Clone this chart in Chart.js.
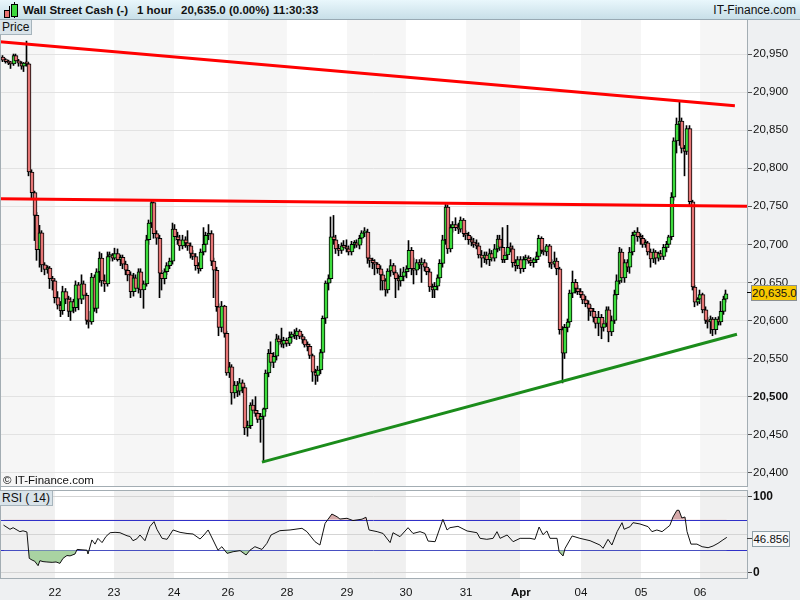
<!DOCTYPE html>
<html lang="en">
<head>
<meta charset="UTF-8">
<title>Wall Street Cash - 1 hour</title>
<script src="https://cdn.jsdelivr.net/npm/chart.js@4.4.1/dist/chart.umd.min.js"></script>
<style>
  body { margin:0; width:800px; height:600px; position:relative; overflow:hidden; background:#fff;
         font-family:"Liberation Sans", Arial, sans-serif; color:#111; }
  .abs { position:absolute; }
  #header { left:0; top:0; width:800px; height:20px; box-sizing:border-box;
            background:linear-gradient(#e9f7fc,#c8dfe8); border-bottom:1px solid #98a9b3; }
  .htxt { top:3px; font-size:11.5px; font-weight:bold; line-height:14px; white-space:nowrap; }
  .strip { background:#eef0f2; }
  .hline { height:1px; background:#a3adb3; }
  .lbl { background:#d9e3e9; border:1px solid #a6b4bc; border-left:none; border-top:none;
         font-size:12px; line-height:14px; padding:0 2px; }
  canvas { position:absolute; left:0; }
</style>
</head>
<body>
<div class="abs strip" style="left:747px; top:20px; width:53px; height:580px;"></div>
<div class="abs strip" style="left:0; top:578px; width:800px; height:22px;"></div>

<div id="header" class="abs">
  <div class="abs" style="left:9px; top:6px; width:1px; height:12px; background:#000;"></div>
  <div class="abs" style="left:4px; top:10px; width:4px; height:6px; background:#e8716f; border:1px solid #000;"></div>
  <div class="abs" style="left:14px; top:2px; width:1px; height:16px; background:#000;"></div>
  <div class="abs" style="left:11px; top:4px; width:5px; height:11px; background:#3dd83d; border:1px solid #000;"></div>
  <span class="abs htxt" style="left:23px;">Wall Street Cash (-)</span>
  <span class="abs htxt" style="left:137px;">1 hour</span>
  <span class="abs htxt" style="left:181px;">20,635.0 (0.00%)</span>
  <span class="abs htxt" style="left:273px;">11:30:33</span>
  <span class="abs" style="right:4px; top:3px; font-size:12px; line-height:14px;">IT-Finance.com</span>
</div>

<canvas id="price" width="800" height="466" style="top:20px;"></canvas>
<canvas id="rsi" width="800" height="112" style="top:488px;"></canvas>

<div class="abs" style="left:0; top:20px; width:1px; height:558px; background:#a3adb3;"></div>
<div class="abs hline" style="left:0; top:486px; width:748px;"></div>
<div class="abs hline" style="left:0; top:490px; width:748px;"></div>
<div class="abs hline" style="left:0; top:578px; width:748px;"></div>

<div class="abs lbl" style="left:0; top:20px;">Price</div>
<div class="abs" style="left:3px; top:474px; font-size:11.5px;">&copy; IT-Finance.com</div>
<div class="abs lbl" style="left:0; top:491px;">RSI ( 14)</div>

<div class="abs" style="left:747px; top:292px; width:5px; height:1px; background:#000;"></div>
<div class="abs" style="left:751px; top:285px; width:44px; height:14px; background:#f7c800; border:1px solid #8a8f93;
     font-size:11.5px; line-height:14px; text-align:center;">20,635.0</div>
<div class="abs" style="left:747px; top:538px; width:5px; height:1px; background:#444;"></div>
<div class="abs" style="left:752px; top:531px; width:36px; height:14px; background:#f6f8f9; border:1px solid #8fa0a8;
     font-size:11.5px; line-height:14px; text-align:center;">46.856</div>

<script>
// hourly candles, one per index
const opens = [
  20946,20942,20940,20938,20937,20948,20941,20938,20934,20938,
  20937,20795,20768,20738,20693,20715,20673,20667,20669,20655,
  20652,20630,20620,20613,20638,20628,20612,20625,20617,20647,
  20628,20648,20633,20600,20598,20657,20616,20664,20682,20652,
  20648,20684,20686,20682,20688,20680,20683,20674,20666,20660,
  20638,20656,20642,20664,20640,20648,20706,20728,20755,20714,
  20708,20662,20655,20664,20672,20678,20720,20710,20706,20698,
  20706,20702,20698,20688,20684,20672,20668,20690,20700,20712,
  20714,20678,20666,20618,20591,20619,20583,20531,20539,20505,
  20515,20507,20518,20512,20459,20462,20489,20482,20478,20470,
  20474,20484,20531,20557,20545,20553,20576,20572,20569,20574,
  20570,20578,20582,20580,20586,20579,20575,20568,20566,20554,
  20532,20528,20535,20558,20603,20649,20655,20710,20706,20694,
  20692,20698,20696,20694,20690,20700,20702,20699,20708,20715,
  20716,20682,20679,20676,20674,20668,20660,20652,20640,20665,
  20672,20663,20655,20652,20658,20664,20668,20692,20668,20666,
  20676,20673,20676,20670,20664,20644,20640,20645,20656,20675,
  20706,20749,20694,20722,20726,20722,20720,20732,20714,20712,
  20706,20703,20700,20698,20686,20682,20686,20680,20688,20682,
  20694,20707,20696,20680,20686,20696,20694,20676,20672,20680,
  20668,20680,20682,20678,20676,20680,20684,20708,20692,20690,
  20698,20676,20674,20678,20668,20588,20557,20591,20598,20636,
  20650,20642,20638,20634,20627,20622,20616,20612,20604,20596,
  20604,20591,20596,20614,20585,20600,20634,20652,20690,20656,
  20676,20670,20690,20712,20716,20710,20708,20700,20702,20690,
  20681,20690,20682,20688,20684,20696,20700,20710,20762,20836,
  20858,20862,20826,20822,20852,20756,20644,20624,20628,20634,
  20614,20600,20598,20602,20588,20602,20598,20612,20628
];
const highs = [
  20948,20944,20942,20940,20950,20950,20943,20940,20939,20967,
  20938,20798,20770,20742,20725,20718,20676,20672,20671,20658,
  20655,20638,20625,20645,20642,20632,20630,20628,20652,20650,
  20660,20652,20636,20612,20662,20660,20668,20690,20688,20660,
  20690,20690,20688,20695,20694,20686,20686,20678,20672,20664,
  20662,20660,20668,20668,20652,20712,20732,20758,20756,20718,
  20712,20666,20668,20676,20682,20728,20726,20716,20712,20712,
  20710,20718,20702,20692,20688,20676,20694,20722,20716,20726,
  20718,20682,20670,20622,20625,20620,20586,20545,20542,20520,
  20520,20524,20522,20515,20468,20492,20496,20500,20482,20478,
  20485,20535,20562,20572,20558,20582,20580,20590,20578,20577,
  20585,20585,20588,20590,20588,20582,20578,20572,20569,20556,
  20536,20540,20562,20606,20652,20660,20736,20738,20712,20700,
  20702,20705,20706,20698,20704,20705,20706,20712,20718,20722,
  20720,20686,20682,20680,20676,20672,20664,20655,20668,20680,
  20675,20666,20660,20668,20670,20672,20705,20696,20682,20680,
  20680,20682,20680,20675,20668,20648,20650,20660,20680,20712,
  20753,20752,20726,20730,20735,20728,20736,20734,20718,20716,
  20710,20708,20706,20702,20692,20690,20690,20694,20692,20700,
  20712,20712,20722,20690,20725,20702,20698,20680,20684,20684,
  20684,20686,20685,20683,20682,20690,20712,20710,20696,20700,
  20700,20680,20690,20682,20670,20592,20595,20602,20640,20665,
  20654,20646,20642,20638,20632,20626,20620,20616,20608,20612,
  20608,20600,20618,20618,20606,20640,20660,20696,20694,20680,
  20680,20696,20716,20718,20722,20714,20712,20706,20704,20694,
  20694,20692,20690,20692,20700,20704,20712,20768,20840,20866,
  20887,20866,20830,20856,20856,20758,20646,20630,20640,20636,
  20618,20604,20606,20604,20604,20605,20625,20632,20640
];
const lows = [
  20940,20938,20936,20931,20935,20939,20934,20930,20927,20934,
  20790,20760,20705,20679,20670,20664,20660,20662,20642,20640,
  20623,20615,20605,20608,20622,20605,20600,20610,20612,20614,
  20622,20628,20595,20590,20595,20612,20610,20650,20645,20638,
  20645,20678,20678,20680,20678,20672,20668,20660,20652,20630,
  20632,20638,20636,20630,20616,20645,20700,20722,20708,20700,
  20630,20640,20648,20660,20668,20674,20705,20700,20692,20694,
  20696,20692,20682,20680,20666,20662,20665,20686,20690,20706,
  20672,20630,20612,20580,20585,20578,20528,20525,20490,20498,
  20500,20502,20505,20450,20448,20458,20478,20474,20466,20440,
  20414,20480,20526,20540,20538,20548,20568,20565,20564,20566,
  20567,20572,20576,20575,20576,20570,20565,20560,20550,20520,
  20516,20520,20530,20550,20596,20640,20650,20700,20688,20685,
  20688,20694,20690,20686,20686,20695,20696,20694,20702,20710,
  20675,20670,20668,20660,20662,20640,20640,20632,20636,20658,
  20660,20630,20640,20645,20652,20656,20664,20660,20648,20660,
  20668,20650,20665,20660,20638,20630,20630,20640,20650,20670,
  20700,20688,20690,20716,20718,20714,20716,20710,20706,20700,
  20698,20696,20694,20682,20670,20676,20674,20672,20678,20678,
  20690,20692,20676,20676,20680,20690,20670,20665,20668,20662,
  20664,20674,20675,20672,20670,20676,20680,20688,20686,20685,
  20670,20668,20670,20660,20582,20518,20550,20585,20594,20630,
  20636,20634,20630,20622,20618,20600,20606,20598,20590,20580,
  20576,20586,20592,20572,20580,20596,20628,20648,20650,20650,
  20664,20662,20686,20700,20704,20700,20696,20696,20686,20670,
  20676,20674,20678,20680,20680,20690,20696,20706,20758,20820,
  20830,20820,20790,20818,20752,20640,20618,20620,20622,20610,
  20596,20590,20583,20580,20582,20594,20594,20608,20624
];
const closes = [
  20942,20940,20938,20937,20948,20941,20938,20934,20938,20937,
  20795,20768,20738,20693,20715,20673,20667,20669,20655,20652,
  20630,20620,20613,20638,20628,20612,20625,20617,20647,20628,
  20648,20633,20600,20598,20657,20616,20664,20682,20652,20648,
  20684,20686,20682,20688,20680,20683,20674,20666,20660,20638,
  20656,20642,20664,20640,20648,20706,20728,20755,20714,20708,
  20662,20655,20664,20672,20678,20720,20710,20706,20698,20706,
  20702,20698,20688,20684,20672,20668,20690,20700,20712,20714,
  20678,20666,20618,20591,20619,20583,20531,20539,20505,20515,
  20507,20518,20512,20459,20462,20489,20482,20478,20470,20474,
  20484,20531,20557,20545,20553,20576,20572,20569,20574,20570,
  20578,20582,20580,20586,20579,20575,20568,20566,20554,20532,
  20528,20535,20558,20603,20649,20655,20710,20706,20694,20692,
  20698,20696,20694,20690,20700,20702,20699,20708,20715,20716,
  20682,20679,20676,20674,20668,20660,20652,20640,20665,20672,
  20663,20655,20652,20658,20664,20668,20692,20668,20666,20676,
  20673,20676,20670,20664,20644,20640,20645,20656,20675,20706,
  20749,20694,20722,20726,20722,20720,20732,20714,20712,20706,
  20703,20700,20698,20686,20682,20686,20680,20688,20682,20694,
  20707,20696,20680,20686,20696,20694,20676,20672,20680,20668,
  20680,20682,20678,20676,20680,20684,20708,20692,20690,20698,
  20676,20674,20678,20668,20588,20557,20591,20598,20636,20650,
  20642,20638,20634,20627,20622,20616,20612,20604,20596,20604,
  20591,20596,20614,20585,20600,20634,20652,20690,20656,20676,
  20670,20690,20712,20716,20710,20708,20700,20702,20690,20681,
  20690,20682,20688,20684,20696,20700,20710,20762,20836,20858,
  20862,20826,20822,20852,20756,20644,20624,20628,20634,20614,
  20600,20598,20602,20588,20602,20598,20612,20628,20635
];

// RSI(14) line, read at candle index positions
const rsiIdx = [
  0,2.5,3.7,5.2,6.3,7.5,9,9.9,11,12,
  13.3,14,15.2,16.7,18.7,20.2,21.7,22.9,24.4,25.6,
  27.5,28.3,30.2,32.1,32.5,34,35.2,36.3,37.9,39.4,
  41,42.9,44.8,47.5,48.7,49.8,51.3,52.5,54.4,56.3,
  57.9,59,61,62.9,65.2,67.9,70.6,72.9,75.6,77.1,
  78.7,80.6,82.5,84,86,88.3,91,93.3,94.8,96.7,
  99.4,101.3,102.9,106.3,110.2,114.8,116.7,119.8,121.7,123.7,
  126.3,128.3,129.4,132.1,134.4,137.9,139.4,140.6,143.7,146,
  148.7,149.8,152.5,155.6,157.5,160.2,162.1,163.3,166,169,
  170.6,171.7,174.8,178.3,182.1,183.3,185.9,188.3,189.8,191,
  193.7,196,198.7,202.5,204.4,206,207.5,209,210.2,212.9,
  213.7,215.2,216,218.7,221.7,225.6,229.4,230.6,232.5,234,
  236,237.9,238.7,241,242.1,244.8,247.9,249.4,251.3,253.3,
  255.2,256.3,257.5,259,259.8,260.9,262.1,262.9,264.4,266.7,
  268.7,271,272.9,274.8,276.7,278.2
];
const rsiVal = [
  63,57.5,59.6,56.6,54.4,55.5,54,19.3,17,15.5,
  9.6,16.2,15,14.5,14,14.5,12.7,19.3,23,22.5,
  25,31,30.5,30,25,43.5,38,45.6,40,48,
  53,53.5,53,49,48,42.5,45,50,42.5,61,
  67.6,57.5,45.6,44.3,56.6,53.5,52,51.3,44.7,50,
  56.6,43.4,30,34.6,25.8,28,29.4,23.7,30,34.6,
  31,39,50,55.7,56.6,58.8,54.4,41.2,36.8,65.4,
  77.6,74,71,72,69,70.8,73.4,56.6,54.4,52,
  40,53,47.8,59.6,52,54.4,52,42,41.2,70.6,
  56.6,59.6,61.4,55.3,53,45.6,44.3,45.6,54.4,45.6,
  50,41.2,45.6,45.6,44.3,60.5,50.4,55.3,45.6,45.6,
  28,22.4,32.5,48.7,45.6,42.5,36.8,32.5,44.3,36.8,
  54.4,66.2,57.5,61,66.2,64.5,61,54.4,56.6,54.4,
  59.6,62.7,73.7,82.5,82.5,72.4,73.7,54.4,38,38,
  34.6,33.3,35.5,39,43.5,46.9
];
const rsiLevels = [30, 70];

// drawn trend lines: [candle index, price]
const resistanceTop = [[-1.35, 20966], [281.3, 20882]];
const resistanceMid = [[-1.35, 20760], [286, 20750]];
const supportLine = [[99.4, 20414], [282.1, 20582]];

// x axis: where each day starts (candle index) and its label
const dayStart = [19.8, 42.5, 65.6, 86.3, 109.0, 132.1, 154.8, 177.9, 199.0, 222.1, 245.2, 267.9];
const dayLabels = ['22', '23', '24', '26', '28', '29', '30', '31', 'Apr', '04', '05', '06'];
const priceTicks = [20400, 20450, 20500, 20550, 20600, 20650, 20700, 20750, 20800, 20850, 20900, 20950];
const rsiTicks = [0, 50, 100];

const X_MIN = -1.346, X_MAX = 285.96;
const GREEN = '#3ddc3d', RED = '#e67676';
Chart.defaults.font.family = '"Liberation Sans", Arial, sans-serif';

// alternating day shading + month separator
const bandPlugin = {
  id: 'bands',
  beforeDraw(chart, args, opts) {
    const {ctx, chartArea: a} = chart;
    const x = chart.scales.x;
    const edges = [X_MIN].concat(dayStart, [X_MAX]);
    ctx.save();
    ctx.fillStyle = opts.color;
    for (let k = 0; k < edges.length - 1; k += 2) {
      const x0 = x.getPixelForValue(edges[k]);
      const x1 = x.getPixelForValue(edges[k + 1]);
      ctx.fillRect(x0, a.top, x1 - x0, a.bottom - a.top);
    }
    const xm = Math.round(x.getPixelForValue(dayStart[dayLabels.indexOf('Apr')]));
    ctx.fillStyle = '#ffffff';
    ctx.fillRect(xm - 1, a.top, 2, a.bottom - a.top);
    ctx.restore();
  }
};

// overbought / oversold reference lines of the RSI panel
const levelPlugin = {
  id: 'levels',
  beforeDatasetsDraw(chart, args, opts) {
    if (!opts.values) return;
    const {ctx, chartArea: a} = chart;
    const y = chart.scales.y;
    ctx.save();
    ctx.strokeStyle = opts.color;
    ctx.lineWidth = 1;
    opts.values.forEach(v => {
      const py = Math.round(y.getPixelForValue(v)) + 0.5;
      ctx.beginPath();
      ctx.moveTo(a.left, py);
      ctx.lineTo(a.right, py);
      ctx.stroke();
    });
    ctx.restore();
  }
};

// keep candles on whole pixels so thin bodies and wicks stay crisp
const snapPlugin = {
  id: 'snap',
  afterDatasetsUpdate(chart) {
    chart.data.datasets.forEach((ds, di) => {
      if (!ds.snap) return;
      chart.getDatasetMeta(di).data.forEach(el => {
        el.x = ds.snap === 'wick' ? Math.round(el.x) - 0.5 : Math.round(el.x);
      });
    });
  }
};

const pts = arr => arr.map(p => ({x: p[0], y: p[1]}));
const trend = (data, color) => ({
  type: 'line', data: pts(data), borderColor: color, borderWidth: 3,
  pointRadius: 0, fill: false, order: 0
});

const bodies = opens.map((o, i) => ({x: i, y: [o, closes[i]]}));
const bodyColors = opens.map((o, i) => closes[i] >= o ? GREEN : RED);
const wicks = lows.map((l, i) => ({x: i, y: [l, highs[i]]}));

new Chart(document.getElementById('price'), {
  type: 'bar',
  data: {
    datasets: [
      trend(resistanceTop, '#ff0000'),
      trend(resistanceMid, '#ff0000'),
      trend(supportLine, '#1b8c1b'),
      {data: bodies, backgroundColor: bodyColors, borderColor: '#000', borderWidth: 1,
       borderSkipped: false, barThickness: 4, minBarLength: 2, grouped: false, order: 1, snap: 'body'},
      {data: wicks, backgroundColor: '#000', borderWidth: 0, barThickness: 1, grouped: false, order: 2, snap: 'wick'}
    ]
  },
  options: {
    responsive: false, animation: false, events: [],
    layout: {padding: 0},
    plugins: {legend: {display: false}, tooltip: {enabled: false}, bands: {color: 'rgba(0,0,0,0.035)'}},
    scales: {
      x: {type: 'linear', min: X_MIN, max: X_MAX, offset: false, display: false},
      y: {
        position: 'right', min: 20382.6, max: 20994.7,
        afterBuildTicks: s => { s.ticks = priceTicks.map(v => ({value: v})); },
        afterFit: s => { s.width = 53; s.paddingTop = 0; s.paddingBottom = 0; },
        border: {display: true, color: '#a3adb3'},
        grid: {color: '#e2e2e2', tickColor: '#555', tickLength: 5},
        ticks: {
          padding: 1, color: '#111',
          font: c => ({size: 11.5, weight: c.tick && c.tick.value === 20500 ? 'bold' : 'normal'}),
          callback: v => v.toLocaleString('en-US')
        }
      }
    }
  },
  plugins: [bandPlugin, snapPlugin]
});

const rsiPts = rsiIdx.map((x, i) => ({x: x, y: rsiVal[i]}));

new Chart(document.getElementById('rsi'), {
  type: 'line',
  data: {
    datasets: [
      {data: rsiPts, borderColor: '#111', borderWidth: 1, pointRadius: 0, tension: 0,
       fill: {target: {value: 70}, above: '#d6aaaa', below: 'rgba(0,0,0,0)'}, order: 1},
      {data: rsiPts, borderWidth: 1, borderColor: 'rgba(0,0,0,0)', pointRadius: 0, tension: 0,
       fill: {target: {value: 30}, above: 'rgba(0,0,0,0)', below: '#a9d3a2'}, order: 2}
    ]
  },
  options: {
    responsive: false, animation: false, events: [],
    layout: {padding: {top: 2}},
    plugins: {
      legend: {display: false}, tooltip: {enabled: false},
      bands: {color: 'rgba(0,0,0,0.06)'},
      levels: {values: rsiLevels, color: '#3030c8'}
    },
    scales: {
      x: {
        type: 'linear', min: X_MIN, max: X_MAX, offset: false,
        afterBuildTicks: s => { s.ticks = dayStart.map(v => ({value: v})); },
        afterFit: s => { s.height = 22; s.paddingLeft = 0; s.paddingRight = 0; },
        grid: {display: false, drawTicks: false},
        border: {display: false},
        ticks: {
          padding: 8, autoSkip: false, maxRotation: 0, color: '#111',
          font: c => ({size: 11.5, weight: dayLabels[c.index] === 'Apr' ? 'bold' : 'normal'}),
          callback: (v, i) => dayLabels[i]
        }
      },
      y: {
        position: 'right', min: -6.58, max: 109.2,
        afterBuildTicks: s => { s.ticks = rsiTicks.map(v => ({value: v})); },
        afterFit: s => { s.width = 53; s.paddingTop = 0; s.paddingBottom = 0; },
        border: {display: true, color: '#a3adb3'},
        grid: {
          color: '#d4d4d4',
          tickColor: c => (c.tick && c.tick.value !== 50) ? '#444' : 'rgba(0,0,0,0)',
          tickLength: 5
        },
        ticks: {
          padding: 1, color: '#111', font: {size: 12, weight: 'bold'},
          callback: v => (v === 0 || v === 100) ? String(v) : ''
        }
      }
    }
  },
  plugins: [bandPlugin, levelPlugin, snapPlugin]
});
</script>
</body>
</html>
